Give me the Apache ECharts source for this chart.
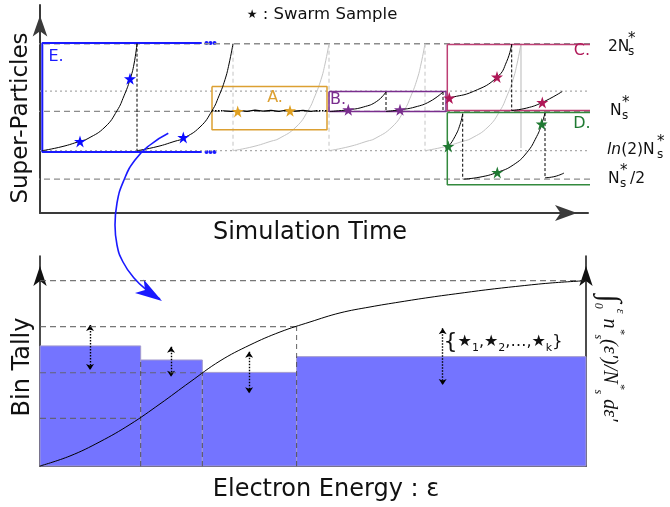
<!DOCTYPE html>
<html><head><meta charset="utf-8">
<script src="https://cdn.jsdelivr.net/npm/echarts@6/dist/echarts.min.js"></script>
<style>html,body{margin:0;padding:0;background:#fff}#c{width:670px;height:507px}</style>
</head><body><div id="c"></div>
<script>
// ===== TOP PANEL DATA (x: simulation time units, y: level = log2(N / N*s)) =====
const levelDashed = [1, 0, -1];            // 2N*s, N*s, N*s/2
const levelDotted = [0.3, -0.58];          // upper B level, ln(2)N*s
const growthLevels = [-0.58, -0.52, -0.44, -0.40, -0.23, 0.01, 0.23, 0.47, 0.70, 1.0];
const curve1T = [2, 22, 40, 48, 65, 77, 84, 90, 94, 97];
const curve2T = [97, 117, 135, 143, 160, 172, 179, 185, 189, 193];
const curve3T = [193, 213, 231, 239, 256, 268, 275, 281, 285, 289];
const curve4T = [289, 309, 327, 335, 352, 364, 371, 377, 381, 385];
const curve5T = [385, 405, 423, 431, 448, 460, 467, 473, 477, 481];
const dropBlackT = [97];
const dropGrayT = [193, 289, 385];
const dropSolidT = [481];

const waveT = [183, 191, 199, 207, 215, 223, 231, 239, 247, 255, 263, 271, 276];
const waveV = [0.01, 0.0, 0.015, 0.0, 0.02, 0.005, 0.015, 0.0, 0.02, 0.005, 0.015, 0.0, 0.01];

const bLevels = [0, 0.025, 0.065, 0.148, 0.287];
const bCurve1T = [290, 308.3, 323.3, 336.7, 346];
const bCurve2T = [346, 360, 375, 390, 403];

const c1T = [407.3, 409.3, 433.3, 457.3, 466.7, 471.7];
const c1V = [0.186, 0.198, 0.295, 0.508, 0.738, 0.99];
const c2T = [471.7, 486.7, 502.3, 522.3];
const c2V = [0.015, 0.05, 0.133, 0.295];

const d1T = [405, 408.3, 415, 420, 422.7];
const d1V = [-0.54, -0.517, -0.369, -0.196, -0.034];
const d2T = [423.3, 440, 457.3, 473.3, 486.7, 496.7, 501.7, 505];
const d2V = [-1.0, -0.97, -0.90, -0.79, -0.61, -0.37, -0.186, -0.024];
const d3T = [505, 515, 524];
const d3V = [-0.98, -0.96, -0.91];

const starsE = [[40, -0.443], [90, 0.483], [143.3, -0.384]];
const starsA = [[197.7, 0.0], [250, 0.01]];
const starsB = [[308.3, 0.025], [360, 0.025]];
const starsC = [[409.3, 0.198], [457, 0.508], [502.3, 0.133]];
const starsD = [[408.3, -0.517], [457.3, -0.90], [501.7, -0.186]];

const boxA = {t: [172, 287], v: [0.369, -0.27]};
const boxB = {t: [289, 406], v: [0.295, 0]};
const boxC = {t: [407.3, 552.3], v: [0.99, 0.015]};
const boxD = {t: [407.3, 552.3], v: [-0.015, -1.083]};
const boxE = {t: [2.3, 161.7], v: [1.01, -0.60]};
const dotsT = [166.5, 170.5, 174.5];

// ===== BOTTOM PANEL DATA (x: electron energy 0..100, y: normalised tally / cumulative) =====
const binEdges = [0, 18.44, 29.73, 47.0, 100];
const binTally = [0.648, 0.572, 0.505, 0.590];
const cdfE = [0, 5.49, 10.99, 16.48, 21.98, 27.47, 32.97, 38.46, 43.96, 49.45, 54.95, 60.44, 65.93, 71.43, 76.92, 82.42, 87.91, 93.41, 100];
const cdfV = [0, 0.054, 0.131, 0.224, 0.335, 0.453, 0.567, 0.653, 0.723, 0.777, 0.826, 0.858, 0.885, 0.91, 0.932, 0.953, 0.971, 0.987, 1.0];
const quartileLevels = [0.257, 0.503, 0.752, 1.0];
const edgeDashTop = [0.572, 0.505, 0.752];
const arrowE = [9.16, 24.0, 38.3, 73.75];
const arrowTop = [0.761, 0.644, 0.617, 0.743];
const arrowBottom = [0.518, 0.482, 0.392, 0.437];

// ===== connecting arrow (page coordinates) =====
const blueX = [168.3, 150, 135, 124, 117, 115, 117, 123, 134, 148, 160];
const blueY = [133.3, 145, 160, 180, 203, 225, 245, 262, 278, 291, 299];

const FONT = 'DejaVu Sans';
const COL = {blue: '#1a1aff', orange: '#dca032', purple: '#7a2e8e', crimson: '#bd3f74', crimsonStar: '#b01858',
  green: '#338a3e', greenStar: '#1f7a32', gray: '#8c8c8c', dot: '#ababab', light: '#c4c4c4', bar: '#7474ff'};
const STAR = 'path://M50 0L61.2 34.5H97.6L68.2 55.9L79.4 90.5L50 69.1L20.6 90.5L31.8 55.9L2.4 34.5H38.8Z';

const series = [];
function line(xi, yi, xs, ys, style, extra) {
  series.push(Object.assign({
    type: 'line', xAxisIndex: xi, yAxisIndex: yi,
    data: xs.map((x, i) => [x, ys[i]]),
    symbol: 'none', showSymbol: false, silent: true, clip: false, animation: false,
    lineStyle: Object.assign({color: '#000', width: 1}, style)
  }, extra || {}));
}
const T = (xs, ys, st, ex) => line(0, 0, xs, ys, st, ex);
const B = (xs, ys, st, ex) => line(1, 1, xs, ys, st, ex);
function rect(b, color) {
  T([b.t[0], b.t[1], b.t[1], b.t[0], b.t[0]], [b.v[0], b.v[0], b.v[1], b.v[1], b.v[0]], {color, width: 1.5});
}
function stars(pts, color) {
  series.push({type: 'scatter', xAxisIndex: 0, yAxisIndex: 0, data: pts, symbol: STAR, symbolSize: 12,
    itemStyle: {color, opacity: 1}, silent: true, clip: false, animation: false, z: 6});
}
const smooth = {smooth: 0.5};

// reference levels
levelDashed.forEach(v => T([-6, 563], [v, v], {color: COL.gray, width: 1.3, type: [6, 4]}));
levelDotted.forEach(v => T([0, 565], [v, v], {color: COL.dot, width: 1.2, type: [2, 3]}));
// gray (later) cycles
[curve3T, curve4T, curve5T].forEach(ts => T(ts, growthLevels, {color: COL.light, width: 1}, smooth));
dropGrayT.forEach(t => T([t, t], [1, -0.58], {color: COL.light, width: 1, type: [4, 3]}));
dropSolidT.forEach(t => T([t, t], [1, -0.54], {color: COL.light, width: 1.2}));
// boxes
rect(boxA, COL.orange); rect(boxB, COL.purple); rect(boxC, COL.crimson); rect(boxD, COL.green);
T([boxE.t[1], boxE.t[0], boxE.t[0], boxE.t[1]], [boxE.v[0], boxE.v[0], boxE.v[1], boxE.v[1]], {color: COL.blue, width: 2});
series.push({type: 'scatter', xAxisIndex: 0, yAxisIndex: 0, symbolSize: 4, itemStyle: {color: COL.blue, opacity: 1}, silent: true,
  clip: false, animation: false, data: dotsT.map(t => [t, boxE.v[0]]).concat(dotsT.map(t => [t, boxE.v[1]]))});
// black cycles
[curve1T, curve2T].forEach(ts => T(ts, growthLevels, {color: '#000', width: 1}, smooth));
dropBlackT.forEach(t => T([t, t], [1, -0.58], {color: '#000', width: 1, type: [3, 2]}));
// A
T(waveT, waveV, {color: '#000', width: 1.2});
T([172, 183], [0.01, 0.01], {color: '#000', width: 1.6, type: [1.5, 1.5]});
T([276, 287], [0.01, 0.01], {color: '#000', width: 1.6, type: [1.5, 1.5]});
// B
T(bCurve1T, bLevels, {color: '#000'}, smooth);
T(bCurve2T, bLevels, {color: '#000'}, smooth);
T([346, 346], [0.287, 0], {color: '#000', type: [3, 2]});
T([403, 403], [0.287, 0], {color: '#000', type: [3, 2]});
// C
T(c1T, c1V, {color: '#000'}, smooth);
T(c2T, c2V, {color: '#000'}, smooth);
T([471.7, 471.7], [0.99, 0.015], {color: '#000', type: [3, 2]});
// D
T(d1T, d1V, {color: '#000'}, smooth);
T(d2T, d2V, {color: '#000'}, smooth);
T(d3T, d3V, {color: '#000'}, smooth);
T([422.7, 422.7], [-0.034, -1.0], {color: '#000', type: [3, 2]});
T([505, 505], [-0.024, -0.98], {color: '#000', type: [3, 2]});
// stars
stars(starsE, '#0a0aff'); stars(starsA, '#e0a020'); stars(starsB, COL.purple);
stars(starsC, COL.crimsonStar); stars(starsD, COL.greenStar);

// ===== bottom panel =====
series.push({
  type: 'custom', xAxisIndex: 1, yAxisIndex: 1, silent: true, animation: false,
  data: binTally.map((h, i) => [binEdges[i], binEdges[i + 1], h]),
  encode: {x: [0, 1], y: 2},
  renderItem: (p, api) => {
    const a = api.coord([api.value(0), api.value(2)]);
    const b = api.coord([api.value(1), 0]);
    return {type: 'rect', shape: {x: a[0], y: a[1], width: b[0] - a[0], height: b[1] - a[1]},
      style: {fill: COL.bar, stroke: '#a49bcf', lineWidth: 1}};
  }
});
quartileLevels.forEach((q, i) => B([0, binEdges[i + 1]], [q, q], {color: 'rgba(95,95,95,0.85)', width: 1.2, type: [6, 4]}));
edgeDashTop.forEach((h, i) => B([binEdges[i + 1], binEdges[i + 1]], [0, h], {color: 'rgba(70,70,70,0.85)', width: 1, type: [5, 4]}));
B(cdfE, cdfV, {color: '#000', width: 1}, {smooth: 0.4});
series.push({
  type: 'lines', coordinateSystem: 'cartesian2d', xAxisIndex: 1, yAxisIndex: 1, silent: true, animation: false,
  symbol: ['arrow', 'arrow'], symbolSize: 6,
  lineStyle: {type: [1.5, 1.5], color: '#000', width: 1.4, opacity: 1},
  data: arrowE.map((e, i) => ({coords: [[e, arrowTop[i]], [e, arrowBottom[i]]]}))
});

// ===== overlay (page coordinates) =====
line(2, 3, blueX, blueY, {color: COL.blue, width: 1.6}, {smooth: 0.5});
series.push({type: 'scatter', xAxisIndex: 2, yAxisIndex: 3, silent: true, animation: false,
  data: [[162, 301]], symbol: 'arrow', symbolSize: [12, 27], symbolRotate: -123, itemStyle: {color: COL.blue, opacity: 1}});

function tx(x, y, text, o) {
  o = o || {};
  return {value: [x, y], label: {show: true, position: o.pos || 'inside', distance: 0, formatter: () => text,
    rotate: o.rot || 0, fontFamily: o.ff || FONT, fontSize: o.s || 15, color: o.c || '#111',
    fontStyle: o.fs || 'normal', opacity: 1, rich: o.rich || {}}};
}
const R = 'right';
const K = '#111';
const texts = [
  tx(21, 118, 'Super-Particles', {s: 23, rot: 90}),
  tx(310, 233, 'Simulation Time', {s: 24}),
  tx(23, 367, 'Bin Tally', {s: 24, rot: 90}),
  tx(326, 490, 'Electron Energy : ε', {s: 24}),
  tx(322, 15, '{st|★} : Swarm Sample', {s: 16.5, rich: {st: {fontSize: 12, fontFamily: FONT, color: K}}}),
  tx(56, 57, 'E.', {s: 16, c: COL.blue}),
  tx(275, 98, 'A.', {s: 16, c: COL.orange}),
  tx(338, 100, 'B.', {s: 16, c: COL.purple}),
  tx(582, 51, 'C.', {s: 16, c: COL.crimsonStar}),
  tx(582, 124, 'D.', {s: 16, c: COL.greenStar}),
  // level labels
  tx(608, 47, '2N', {pos: R, s: 15.5}), tx(628, 39, '*', {pos: R, s: 15}), tx(628, 51.5, 's', {pos: R, s: 12}),
  tx(610, 111, 'N', {pos: R, s: 15.5}), tx(622, 103, '*', {pos: R, s: 15}), tx(622, 115.5, 's', {pos: R, s: 12}),
  tx(607, 150, '{i|ln}(2)N', {pos: R, s: 15.5, rich: {i: {fontStyle: 'italic', fontSize: 15.5, fontFamily: FONT, color: K}}}),
  tx(657, 142, '*', {pos: R, s: 15}), tx(657, 154.5, 's', {pos: R, s: 12}),
  tx(608, 179, 'N', {pos: R, s: 15.5}), tx(620, 171, '*', {pos: R, s: 15}), tx(620, 183.5, 's', {pos: R, s: 12}),
  tx(630, 179, '/2', {pos: R, s: 15.5}),
  // tally set
  tx(503, 342, '{br|{}★{sb|1},★{sb|2},…,★{sb|k}{br|}}', {s: 16, rich: {
    br: {fontSize: 22, fontFamily: FONT, color: K, lineHeight: 24},
    sb: {fontSize: 11, fontFamily: FONT, color: K, verticalAlign: 'bottom', lineHeight: 22}}}),
  // cumulative axis label
  tx(609, 358, '{b|∫}{lo|0}{hi|ε} n{hi|*}{lo|s}(ε′)/N{hi|*}{lo|s} dε′', {s: 20, rot: -90, ff: 'Liberation Serif', fs: 'italic', rich: {
    b: {fontSize: 30, fontFamily: 'Liberation Serif', fontStyle: 'italic', color: K, lineHeight: 34},
    lo: {fontSize: 12, fontFamily: 'Liberation Serif', fontStyle: 'italic', color: K, verticalAlign: 'bottom', lineHeight: 30},
    hi: {fontSize: 12, fontFamily: 'Liberation Serif', fontStyle: 'italic', color: K, verticalAlign: 'top', lineHeight: 30}}})
];
series.push({type: 'scatter', xAxisIndex: 2, yAxisIndex: 3, symbolSize: 0, silent: true, animation: false, z: 10,
  itemStyle: {opacity: 1}, data: texts});

const hidden = {show: false};
const axLine = (color, width, arrow, size) => ({show: true, onZero: false,
  symbol: arrow ? ['none', 'arrow'] : 'none', symbolSize: size || [10, 15],
  symbolOffset: [0, size ? -size[1] / 2 : 0], lineStyle: {color, width}});
const bare = {axisTick: hidden, axisLabel: hidden, splitLine: hidden};

const option = {
  animation: false,
  backgroundColor: '#fff',
  grid: [
    {left: 40, top: 5, width: 548, height: 208},
    {left: 40, top: 256, width: 546, height: 210},
    {left: 0, top: 0, width: 670, height: 507}
  ],
  xAxis: [
    Object.assign({type: 'value', gridIndex: 0, min: 0, max: 548, axisLine: axLine('#3a3a3a', 2, true, [12, 22])}, bare),
    Object.assign({type: 'value', gridIndex: 1, min: 0, max: 100, axisLine: axLine('#111', 1.5, false)}, bare),
    Object.assign({type: 'value', gridIndex: 2, min: 0, max: 670, show: false}, bare)
  ],
  yAxis: [
    Object.assign({type: 'value', gridIndex: 0, min: -1.5, max: 1.572, axisLine: axLine('#3a3a3a', 2, true, [11, 21])}, bare),
    Object.assign({type: 'value', gridIndex: 1, min: 0, max: 1.133, axisLine: axLine('#111', 1.5, true, [10, 20])}, bare),
    Object.assign({type: 'value', gridIndex: 1, position: 'right', min: 0, max: 1.133, axisLine: axLine('#111', 1.5, true, [10, 20])}, bare),
    Object.assign({type: 'value', gridIndex: 2, min: 0, max: 507, inverse: true, show: false}, bare)
  ],
  series
};
const chart = echarts.init(document.getElementById('c'), null, {renderer: 'canvas', width: 670, height: 507});
chart.setOption(option);
</script></body></html>
